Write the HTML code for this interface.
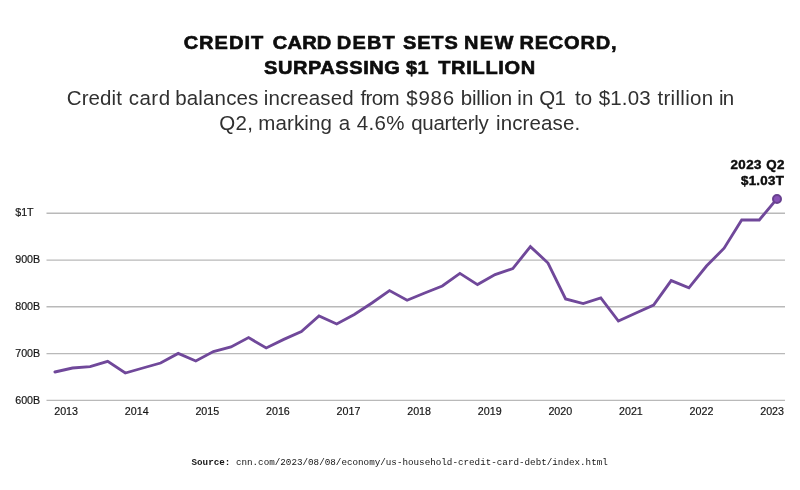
<!DOCTYPE html>
<html><head><meta charset="utf-8"><title>Credit Card Debt</title>
<style>
html,body{margin:0;padding:0;background:#fff;}
body{width:800px;height:490px;overflow:hidden;font-family:"Liberation Sans",sans-serif;}
svg{display:block}
.t{font-family:"Liberation Sans",sans-serif;font-weight:700;font-size:19.05px;fill:#0d0d0d;stroke:#0d0d0d;stroke-width:0.65px;stroke-linejoin:miter;}
.s{font-family:"Liberation Sans",sans-serif;font-weight:400;font-size:20.5px;fill:#303030;}
.a{font-family:"Liberation Sans",sans-serif;font-weight:700;font-size:12.6px;fill:#0d0d0d;stroke:#0d0d0d;stroke-width:0.45px;letter-spacing:0.78px;}
.l{font-family:"Liberation Sans",sans-serif;font-size:10.7px;fill:#151515;stroke:#151515;stroke-width:0.18px;}
.m{font-family:"Liberation Mono",monospace;font-size:9.25px;fill:#151515;}
</style></head><body>
<svg width="800" height="490" viewBox="0 0 800 490">
<rect width="800" height="490" fill="#fff"/>
<text class="t" y="49.4" transform="scale(1.05,1)"><tspan x="174.91" letter-spacing="0.988px">CREDIT </tspan><tspan x="259.81" letter-spacing="0.234px">CARD </tspan><tspan x="320.80" letter-spacing="1.129px">DEBT </tspan><tspan x="383.81" letter-spacing="0.806px">SETS </tspan><tspan x="441.87" letter-spacing="1.284px">NEW </tspan><tspan x="494.67" letter-spacing="0.794px">RECORD,</tspan></text>
<text class="t" y="74.3" transform="scale(1.05,1)"><tspan x="251.41" letter-spacing="0.548px">SURPASSING </tspan><tspan x="386.76" letter-spacing="0.2px">$1 </tspan><tspan x="417.33" letter-spacing="0.676px">TRILLION</tspan></text>
<text class="s" y="104.7"><tspan x="66.80" letter-spacing="0.07px">Credit </tspan><tspan x="128.66" letter-spacing="0.514px">card </tspan><tspan x="175.20" letter-spacing="0.16px">balances </tspan><tspan x="263.70" letter-spacing="0.137px">increased </tspan><tspan x="360.58" letter-spacing="-0.7px">from </tspan><tspan x="406.20" letter-spacing="0.796px">$986 </tspan><tspan x="460.78" letter-spacing="-0.189px">billion </tspan><tspan x="517.20" letter-spacing="0.3px">in </tspan><tspan x="539.28" letter-spacing="-0.7px">Q1 </tspan><tspan x="575.00" letter-spacing="0px">to </tspan><tspan x="598.70" letter-spacing="0.175px">$1.03 </tspan><tspan x="657.50" letter-spacing="0.3px">trillion </tspan><tspan x="719.10" letter-spacing="-0.9px">in</tspan></text>
<text class="s" y="129.6"><tspan x="219.20" letter-spacing="0.35px">Q2, </tspan><tspan x="258.30" letter-spacing="0.117px">marking </tspan><tspan x="338.76" letter-spacing="0px">a </tspan><tspan x="356.80" letter-spacing="0.282px">4.6% </tspan><tspan x="411.20" letter-spacing="-0.263px">quarterly </tspan><tspan x="495.96" letter-spacing="0.136px">increase.</tspan></text>
<text class="a" id="a1" transform="scale(1.06,1)" x="689.06" y="168.6" style="letter-spacing:0.45px">2023 Q2</text>
<text class="a" id="a2" transform="scale(1.06,1)" x="699.06" y="185.4" style="letter-spacing:0.25px">$1.03T</text>
<g stroke="#b9b9b9" stroke-width="1.4">
<line x1="46.5" x2="785" y1="213.3" y2="213.3"/>
<line x1="46.5" x2="785" y1="260.1" y2="260.1"/>
<line x1="46.5" x2="785" y1="306.8" y2="306.8"/>
<line x1="46.5" x2="785" y1="353.6" y2="353.6"/>
<line x1="46.5" x2="785" y1="400.4" y2="400.4"/>
</g>
<text class="l" x="15.2" y="216.4">$1T</text>
<text class="l" x="15.2" y="263.2">900B</text>
<text class="l" x="15.2" y="309.9">800B</text>
<text class="l" x="15.2" y="356.7">700B</text>
<text class="l" x="15.2" y="403.5">600B</text>
<text class="l" x="54.2" y="414.5">2013</text>
<text class="l" x="124.8" y="414.5">2014</text>
<text class="l" x="195.4" y="414.5">2015</text>
<text class="l" x="266.0" y="414.5">2016</text>
<text class="l" x="336.6" y="414.5">2017</text>
<text class="l" x="407.2" y="414.5">2018</text>
<text class="l" x="477.8" y="414.5">2019</text>
<text class="l" x="548.4" y="414.5">2020</text>
<text class="l" x="619.0" y="414.5">2021</text>
<text class="l" x="689.6" y="414.5">2022</text>
<text class="l" x="760.2" y="414.5">2023</text>
<polyline points="54.9,372 72.5,368 90.1,366.6 107.7,361.4 125.3,373 142.9,368 160.6,363 178.2,353.4 195.8,361 213.4,351.6 231.0,347 248.6,337.6 266.2,348 283.8,339.4 301.4,331.6 319.0,316 336.7,324 354.3,314.4 371.9,303 389.5,290.6 407.1,300.2 424.7,293 442.3,286 459.9,273.4 477.5,284.6 495.1,274.6 512.8,268.6 530.4,246.6 548.0,263 565.6,299 583.2,303.6 600.8,298 618.4,321 636.0,313 653.6,305 671.2,280.6 688.9,287.8 706.5,266 724.1,248.2 741.7,220 759.3,220 776.9,198.8" fill="none" stroke="#70489a" stroke-width="2.85" stroke-linejoin="miter" stroke-linecap="round"/>
<circle cx="777" cy="199" r="4" fill="#8852b7" stroke="#68408f" stroke-width="2"/>
<text class="m" id="m1" x="191.5" y="464.9"><tspan font-weight="700">Source:</tspan> cnn.com/2023/08/08/economy/us-household-credit-card-debt/index.html</text>
</svg>
</body></html>
